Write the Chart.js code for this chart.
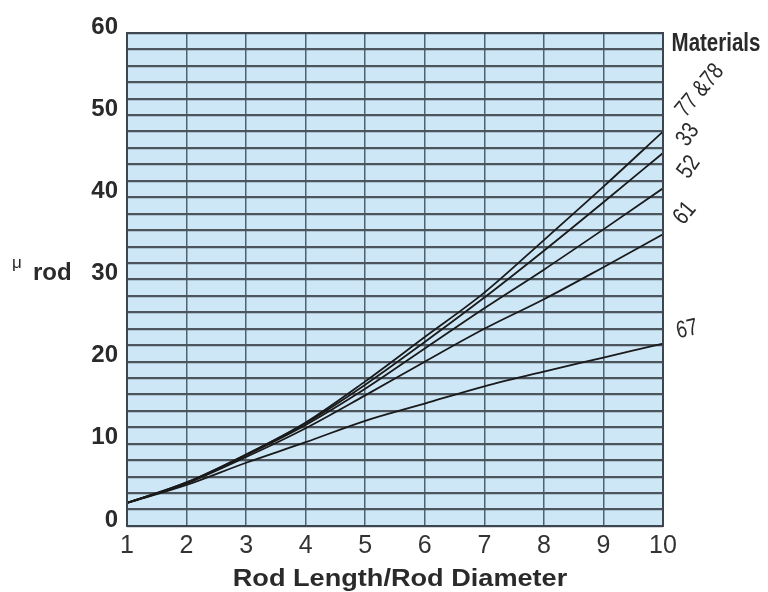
<!DOCTYPE html>
<html>
<head>
<meta charset="utf-8">
<script src="https://cdn.jsdelivr.net/npm/chart.js@4/dist/chart.umd.min.js"></script>
<style>
html,body{margin:0;padding:0;background:#fff;}
#wrap{width:768px;height:592px;}
</style>
</head>
<body>
<div id="wrap"><canvas id="c" width="768" height="592"></canvas></div>
<script>
// ---- data ----
const xValues = [1, 2, 3, 4, 5, 6, 7, 8, 9, 10];
const mat7778 = [2.8, 5.3, 8.7, 12.6, 17.6, 23.0, 28.4, 34.8, 41.3, 48.0];
const mat33   = [2.8, 5.3, 8.7, 12.5, 17.2, 22.4, 27.8, 33.5, 39.4, 45.4];
const mat52   = [2.8, 5.2, 8.6, 12.3, 16.7, 21.6, 26.5, 31.2, 36.1, 41.1];
const mat61   = [2.8, 5.2, 8.4, 11.9, 15.9, 20.0, 24.0, 27.6, 31.5, 35.5];
const mat67   = [2.8, 5.0, 7.7, 10.2, 12.8, 14.9, 17.0, 18.8, 20.5, 22.2];
const seriesLabels = ['77 &78', '33', '52', '61', '67'];
const yTickLabels = [0, 10, 20, 30, 40, 50, 60];
const xTickLabels = [1, 2, 3, 4, 5, 6, 7, 8, 9, 10];

const allSeries = [mat7778, mat33, mat52, mat61, mat67];
// label styling (offset from series end, rotation in degrees)
const labelStyle = [
  {dx: 37, dy: -41, rot: -50},
  {dx: 25, dy: -18, rot: -55},
  {dx: 26, dy: -21, rot: -55},
  {dx: 22, dy: -21, rot: -50},
  {dx: 24, dy: -14, rot: -12}
];
const FONT = '"Liberation Sans", Arial, sans-serif';

const bgPlugin = {
  id: 'bg',
  beforeDraw(chart) {
    const {ctx, chartArea: a} = chart;
    ctx.save();
    ctx.fillStyle = '#cde7f7';
    ctx.fillRect(a.left, a.top, a.right - a.left, a.bottom - a.top);
    ctx.restore();
  }
};

const textPlugin = {
  id: 'texts',
  afterDraw(chart) {
    const {ctx} = chart;
    const xs = chart.scales.x, ys = chart.scales.y;
    const a = chart.chartArea;
    ctx.save();
    // border
    ctx.strokeStyle = '#3d4650';
    ctx.lineWidth = 2;
    ctx.strokeRect(a.left, a.top, a.right - a.left, a.bottom - a.top);
    // y title "μ rod"
    ctx.fillStyle = '#2a2a2a';
    ctx.textBaseline = 'alphabetic';
    ctx.textAlign = 'left';
    ctx.font = '17px ' + FONT;
    ctx.fillText('μ', 12, 268);
    ctx.font = 'bold 24px ' + FONT;
    ctx.fillText('rod', 33, 280);
    // x title
    ctx.textAlign = 'center';
    ctx.textBaseline = 'middle';
    ctx.save();
    ctx.translate(400, 579);
    ctx.scale(1.13, 1);
    ctx.font = 'bold 24px ' + FONT;
    ctx.fillText('Rod Length/Rod Diameter', 0, 0);
    ctx.restore();
    // Materials
    ctx.save();
    ctx.translate(716, 44);
    ctx.scale(0.82, 1);
    ctx.font = 'bold 25px ' + FONT;
    ctx.fillText('Materials', 0, 0);
    ctx.restore();
    // series labels
    ctx.font = '24px ' + FONT;
    allSeries.forEach((s, i) => {
      const px = xs.getPixelForValue(xValues[xValues.length - 1]) + labelStyle[i].dx;
      const py = ys.getPixelForValue(s[s.length - 1]) + labelStyle[i].dy;
      ctx.save();
      ctx.translate(px, py);
      ctx.rotate(labelStyle[i].rot * Math.PI / 180);
      ctx.scale(0.8, 1);
      ctx.fillText(seriesLabels[i], 0, 0);
      ctx.restore();
    });
    ctx.restore();
  }
};

const datasets = allSeries.map((s, i) => ({
  label: seriesLabels[i],
  data: xValues.map((x, j) => ({x: x, y: s[j]})),
  borderColor: '#1a1a1a',
  borderWidth: 1.8,
  pointRadius: 0,
  fill: false,
  cubicInterpolationMode: 'monotone'
}));

new Chart(document.getElementById('c'), {
  type: 'line',
  data: {datasets},
  options: {
    responsive: false,
    animation: false,
    events: [],
    layout: {padding: {top: 33, right: 105, left: 0, bottom: 0}},
    plugins: {legend: {display: false}, tooltip: {enabled: false}},
    scales: {
      x: {
        type: 'linear',
        min: 1, max: 10,
        afterFit(s) { s.height = 66; },
        grid: {color: '#4f6272', lineWidth: 1.5, drawTicks: false},
        border: {display: false},
        ticks: {
          stepSize: 1,
          padding: 5,
          color: '#333',
          font: {family: FONT, size: 25},
          callback: v => xTickLabels.includes(v) ? String(v) : ''
        }
      },
      y: {
        min: 0, max: 60,
        afterFit(s) { s.width = 127; },
        grid: {color: '#4c545c', lineWidth: 2.2, drawTicks: false},
        border: {display: false},
        ticks: {
          stepSize: 2,
          autoSkip: false,
          padding: 9,
          labelOffset: -6,
          color: '#2a2a2a',
          font: {family: FONT, size: 24, weight: 'bold'},
          callback: v => yTickLabels.includes(v) ? String(v) : ''
        }
      }
    }
  },
  plugins: [bgPlugin, textPlugin]
});
</script>
</body>
</html>
